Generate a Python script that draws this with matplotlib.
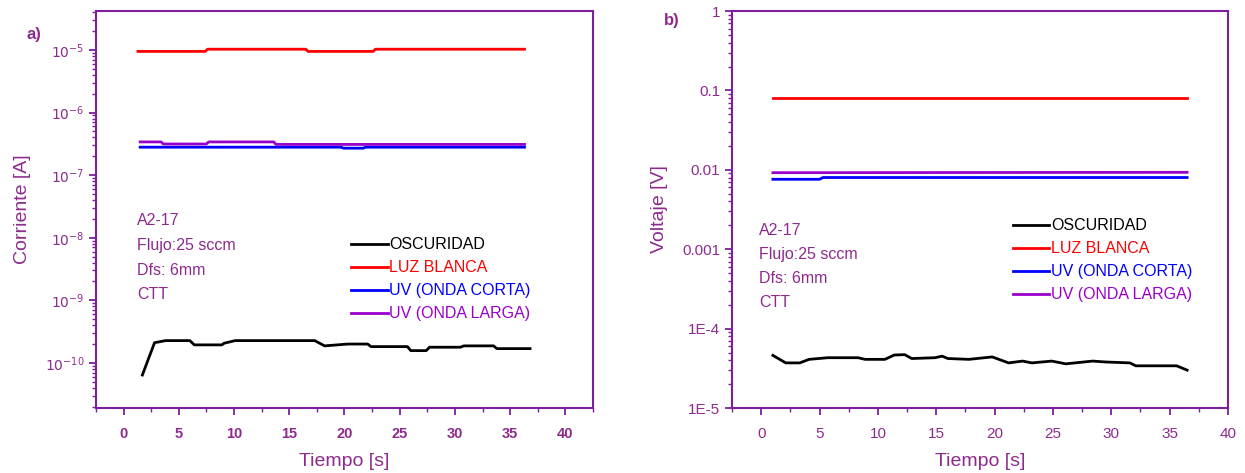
import matplotlib
matplotlib.use("Agg")
import matplotlib.pyplot as plt
from matplotlib.ticker import LogLocator, FixedLocator, MultipleLocator, FixedFormatter

plt.rcParams['font.family'] = ['Liberation Sans', 'DejaVu Sans']

PURPLE_TXT = '#8e2a8e'
PURPLE_AX = '#7d1f9c'

# ---- panel a) corriente [A] ----
a_t_negro = [1.7, 2.8, 3.8, 6.0, 6.4, 8.9, 9.1, 10.1, 17.3, 18.2, 20.3, 22.1, 22.4,
             25.7, 26.0, 27.4, 27.7, 30.5, 30.8, 33.5, 33.8, 36.8]
a_negro = [6.4e-11, 2.1e-10, 2.27e-10, 2.27e-10, 1.94e-10, 1.94e-10, 2.06e-10, 2.27e-10,
           2.27e-10, 1.87e-10, 2.0e-10, 2.0e-10, 1.82e-10, 1.82e-10, 1.57e-10, 1.57e-10,
           1.78e-10, 1.78e-10, 1.87e-10, 1.87e-10, 1.69e-10, 1.69e-10]
a_t_rojo = [1.3, 7.4, 7.6, 16.5, 16.7, 22.6, 22.8, 36.3]
a_rojo = [0.95e-5, 0.95e-5, 1.03e-5, 1.03e-5, 0.95e-5, 0.95e-5, 1.03e-5, 1.03e-5]
a_t_azul = [1.5, 19.7, 19.9, 21.7, 21.9, 36.3]
a_azul = [2.8e-7, 2.8e-7, 2.7e-7, 2.7e-7, 2.8e-7, 2.8e-7]
a_t_morado = [1.5, 3.4, 3.6, 7.5, 7.7, 13.6, 13.8, 36.3]
a_morado = [3.4e-7, 3.4e-7, 3.15e-7, 3.15e-7, 3.4e-7, 3.4e-7, 3.1e-7, 3.1e-7]

# ---- panel b) voltaje [V] ----
b_t_negro = [1.0, 2.1, 3.3, 4.1, 5.7, 8.3, 8.9, 10.6, 11.4, 12.3, 12.9, 14.9, 15.5, 16.0,
             17.8, 19.8, 21.2, 22.4, 23.2, 24.9, 26.1, 28.4, 29.5, 31.6, 32.1, 33.9, 35.6, 36.5]
b_negro = [4.6e-5, 3.7e-5, 3.7e-5, 4.1e-5, 4.3e-5, 4.3e-5, 4.1e-5, 4.1e-5, 4.65e-5, 4.7e-5,
           4.2e-5, 4.3e-5, 4.5e-5, 4.2e-5, 4.1e-5, 4.4e-5, 3.7e-5, 3.9e-5, 3.7e-5, 3.9e-5,
           3.6e-5, 3.9e-5, 3.8e-5, 3.7e-5, 3.4e-5, 3.4e-5, 3.4e-5, 3.0e-5]
b_t_rojo = [1.0, 36.5]
b_rojo = [0.081, 0.081]
b_t_azul = [1.0, 5.0, 5.3, 36.5]
b_azul = [0.0076, 0.0076, 0.0080, 0.0080]
b_t_morado = [1.0, 36.5]
b_morado = [0.0092, 0.0093]

etiquetas = ['OSCURIDAD', 'LUZ BLANCA', 'UV (ONDA CORTA)', 'UV (ONDA LARGA)']
colores = ['black', '#ff0000', '#0000ff', '#9900cc']
info = 'A2-17\nFlujo:25 sccm\nDfs: 6mm\nCTT'

a_yticks = [1e-5, 1e-6, 1e-7, 1e-8, 1e-9, 1e-10]
a_ylabels = [r'$10^{-5}$', r'$10^{-6}$', r'$10^{-7}$', r'$10^{-8}$', r'$10^{-9}$', r'$10^{-10}$']
b_yticks = [1, 0.1, 0.01, 0.001, 1e-4, 1e-5]
b_ylabels = ['1', '0.1', '0.01', '0.001', '1E-4', '1E-5']

fig = plt.figure(figsize=(12.45, 4.73), dpi=100)
ax1 = fig.add_axes([0.0771, 0.1374, 0.3992, 0.8393])
ax2 = fig.add_axes([0.588, 0.1374, 0.3983, 0.8393])


def estilo(ax, xmax):
    ax.set_yscale('log')
    ax.set_xlim(-2.5, xmax)
    ax.xaxis.set_major_locator(MultipleLocator(5))
    ax.xaxis.set_minor_locator(MultipleLocator(2.5))
    ax.yaxis.set_minor_locator(LogLocator(base=10, subs=range(2, 10), numticks=20))
    for s in ax.spines.values():
        s.set_color(PURPLE_AX)
        s.set_linewidth(1.5)
    ax.tick_params(which='both', direction='out', colors=PURPLE_AX, labelcolor=PURPLE_TXT)
    ax.tick_params(which='major', length=5, width=1.3)
    ax.tick_params(which='minor', length=3, width=1.0)
    ax.tick_params(axis='x', pad=9)
    ax.set_xlabel('Tiempo [s]', color=PURPLE_TXT, fontsize=14, labelpad=8)


# panel a
ax1.plot(a_t_negro, a_negro, color=colores[0], lw=2, label=etiquetas[0])
ax1.plot(a_t_rojo, a_rojo, color=colores[1], lw=2, label=etiquetas[1])
ax1.plot(a_t_azul, a_azul, color=colores[2], lw=2, label=etiquetas[2])
ax1.plot(a_t_morado, a_morado, color=colores[3], lw=2, label=etiquetas[3])
estilo(ax1, 42.5)
ax1.set_ylim(1.9e-11, 4.2e-5)
ax1.yaxis.set_major_locator(FixedLocator(a_yticks))
ax1.yaxis.set_major_formatter(FixedFormatter(a_ylabels))
ax1.tick_params(axis='y', labelsize=10)
ax1.tick_params(axis='x', labelsize=10.5)
for lab in ax1.get_xticklabels():
    lab.set_fontweight('bold')
ax1.set_ylabel('Corriente [A]', color=PURPLE_TXT, fontsize=14, labelpad=10)
ax1.text(0.083, 0.49, info, transform=ax1.transAxes, color=PURPLE_TXT, fontsize=11.5,
         va='top', ha='left', linespacing=1.8)
ax1.legend(loc='upper left', bbox_to_anchor=(0.5, 0.446), frameon=False,
           labelcolor='linecolor', fontsize=11.5, handlelength=2.3, handletextpad=0.1,
           labelspacing=0.5, borderaxespad=0)
fig.text(26 / 1245, 1 - 35 / 473, 'a)', color=PURPLE_TXT, fontsize=12, fontweight='bold',
         ha='left', va='center')

# panel b
ax2.plot(b_t_negro, b_negro, color=colores[0], lw=2, label=etiquetas[0])
ax2.plot(b_t_rojo, b_rojo, color=colores[1], lw=2, label=etiquetas[1])
ax2.plot(b_t_azul, b_azul, color=colores[2], lw=2, label=etiquetas[2])
ax2.plot(b_t_morado, b_morado, color=colores[3], lw=2, label=etiquetas[3])
estilo(ax2, 40)
ax2.set_ylim(1e-5, 1)
ax2.yaxis.set_major_locator(FixedLocator(b_yticks))
ax2.yaxis.set_major_formatter(FixedFormatter(b_ylabels))
ax2.tick_params(axis='both', labelsize=11)
ax2.set_ylabel('Voltaje [V]', color=PURPLE_TXT, fontsize=14, labelpad=10)
ax2.text(0.055, 0.465, info, transform=ax2.transAxes, color=PURPLE_TXT, fontsize=11.5,
         va='top', ha='left', linespacing=1.75)
ax2.legend(loc='upper left', bbox_to_anchor=(0.553, 0.494), frameon=False,
           labelcolor='linecolor', fontsize=11.5, handlelength=2.3, handletextpad=0.1,
           labelspacing=0.5, borderaxespad=0)
fig.text(664 / 1245, 1 - 20 / 473, 'b)', color=PURPLE_TXT, fontsize=12, fontweight='bold',
         ha='left', va='center')

fig.savefig('out.png', dpi=100)
